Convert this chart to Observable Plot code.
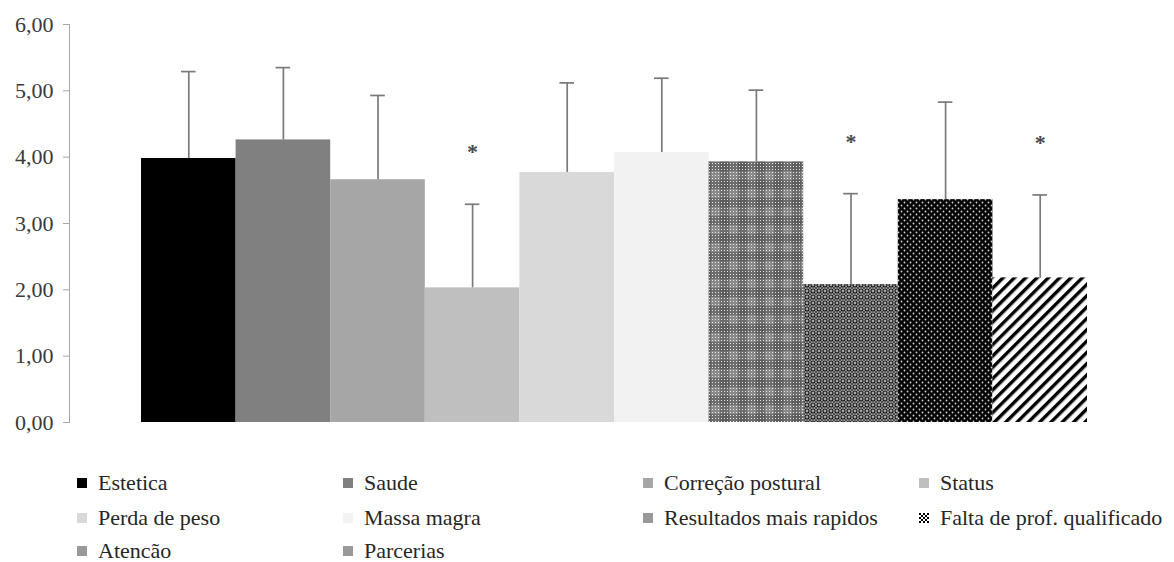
<!DOCTYPE html>
<html>
<head>
<meta charset="utf-8">
<script src="https://cdn.jsdelivr.net/npm/d3@7"></script>
<script src="https://cdn.jsdelivr.net/npm/@observablehq/plot@0.6"></script>
<style>
  body { margin: 0; background: #fff; font-family: "Liberation Serif", "DejaVu Serif", "Times New Roman", Times, serif; }
  #chart { position: relative; width: 1174px; height: 562px; overflow: hidden; }
  #chart svg { display: block; }
  .item { position: absolute; height: 22px; line-height: 22px; display: flex; align-items: center;
          font-size: 22px; color: #262626; white-space: nowrap; }
  .sw { width: 10px; height: 10px; margin-right: 11px; flex: none; }
</style>
</head>
<body>
<div id="chart"></div>
<script>
// ---- data ----
const categories = ["Estetica", "Saude", "Correção postural", "Status", "Perda de peso",
  "Massa magra", "Resultados mais rapidos", "Falta de prof. qualificado", "Atencão", "Parcerias"];
const means = [3.98, 4.26, 3.66, 2.03, 3.77, 4.07, 3.93, 2.08, 3.36, 2.18];
const sds   = [1.31, 1.09, 1.27, 1.26, 1.35, 1.12, 1.08, 1.37, 1.47, 1.25];
const significant = [false, false, false, true, false, false, false, true, false, true];
const yTicks = [0, 1, 2, 3, 4, 5, 6];

// ---- styles ----
const barFills = ["#000000", "#808080", "#a6a6a6", "#bfbfbf", "#d9d9d9", "#f2f2f2",
  "url(#pat-plaid)", "url(#pat-lattice)", "url(#pat-dots)", "url(#pat-stripes)"];
const legendFills = ["#000000", "#808080", "#a6a6a6", "#bfbfbf", "#d9d9d9", "#f2f2f2",
  "#999999", "url(#pat-check)", "#999999", "#999999"];
const serif = "'Liberation Serif', 'DejaVu Serif', 'Times New Roman', Times, serif";

const data = categories.map((c, i) => ({
  cat: c, mean: means[i], top: means[i] + sds[i], sig: significant[i], fill: barFills[i]
}));

const plot = Plot.plot({
  width: 1174, height: 445,
  marginLeft: 69, marginRight: 87, marginTop: 24, marginBottom: 23,
  x: { domain: categories, padding: 0, insetLeft: 72, round: false, axis: null },
  y: { domain: [0, 6] },
  color: { type: "identity" },
  style: { fontFamily: serif, fontSize: "22px", background: "white" },
  marks: [
    Plot.barY(data, { x: "cat", y: "mean", fill: "fill" }),
    Plot.ruleX(data, { x: "cat", y1: "mean", y2: "top", stroke: "#7a7a7a", strokeWidth: 1.7 }),
    Plot.tickY(data, { x: "cat", y: "top", stroke: "#7a7a7a", strokeWidth: 1.7, insetLeft: 40, insetRight: 40 }),
    Plot.text(data.filter(d => d.sig), { x: "cat", y: "top", text: () => "*", dy: -52,
      fill: "#4a4a4a", fontSize: 22, fontWeight: "bold" }),
    Plot.axisY({ ticks: yTicks, tickFormat: d => d.toFixed(2).replace(".", ","),
      tickSize: 6, tickPadding: 10, stroke: "#a6a6a6", fill: "#3a3a3a" }),
    Plot.frame({ anchor: "left", stroke: "#a6a6a6" })
  ]
});

// pattern definitions
const svg = d3.select(plot);
const defs = svg.insert("defs", ":first-child");
{
  const p = defs.append("pattern").attr("id", "pat-plaid").attr("patternUnits", "userSpaceOnUse")
    .attr("width", 18).attr("height", 18);
  p.append("rect").attr("width", 18).attr("height", 18).attr("fill", "#8a8a8a");
  p.append("rect").attr("width", 9).attr("height", 18).attr("fill", "#4a4a4a").attr("opacity", 0.45);
  p.append("rect").attr("width", 18).attr("height", 9).attr("fill", "#4a4a4a").attr("opacity", 0.45);
  for (let i = 0; i < 6; i++) for (let j = 0; j < 6; j++)
    p.append("rect").attr("x", i * 3 + 1).attr("y", j * 3 + 1).attr("width", 1).attr("height", 1).attr("fill", "#e6e6e6");
}
{
  const p = defs.append("pattern").attr("id", "pat-lattice").attr("patternUnits", "userSpaceOnUse")
    .attr("width", 6).attr("height", 6);
  p.append("rect").attr("width", 6).attr("height", 6).attr("fill", "#a8a8a8");
  p.append("circle").attr("cx", 3).attr("cy", 3).attr("r", 2).attr("fill", "none").attr("stroke", "#111").attr("stroke-width", 1.1);
  [[0,0],[6,0],[0,6],[6,6]].forEach(([x,y]) => p.append("circle").attr("cx", x).attr("cy", y).attr("r", 0.9).attr("fill", "#222"));
}
{
  const p = defs.append("pattern").attr("id", "pat-dots").attr("patternUnits", "userSpaceOnUse")
    .attr("width", 6).attr("height", 6);
  p.append("rect").attr("width", 6).attr("height", 6).attr("fill", "#050505");
  p.append("circle").attr("cx", 1.5).attr("cy", 1.5).attr("r", 0.9).attr("fill", "#d0d0d0");
  p.append("circle").attr("cx", 4.5).attr("cy", 4.5).attr("r", 0.9).attr("fill", "#d0d0d0");
}
{
  const p = defs.append("pattern").attr("id", "pat-stripes").attr("patternUnits", "userSpaceOnUse")
    .attr("width", 8).attr("height", 8).attr("patternTransform", "rotate(45)");
  p.append("rect").attr("width", 8).attr("height", 8).attr("fill", "#ffffff");
  p.append("rect").attr("width", 3.4).attr("height", 8).attr("fill", "#000000");
}
{
  const p = defs.append("pattern").attr("id", "pat-check").attr("patternUnits", "userSpaceOnUse")
    .attr("width", 4).attr("height", 4);
  p.append("rect").attr("width", 4).attr("height", 4).attr("fill", "#ffffff");
  p.append("rect").attr("width", 2).attr("height", 2).attr("fill", "#000");
  p.append("rect").attr("x", 2).attr("y", 2).attr("width", 2).attr("height", 2).attr("fill", "#000");
}

const chart = document.getElementById("chart");
chart.appendChild(plot);

// legend (HTML, below the SVG)
const colX = [77, 343, 643, 919];
const rowY = [483, 518, 551];
categories.forEach((c, i) => {
  const item = document.createElement("div");
  item.className = "item";
  item.style.left = colX[i % 4] + "px";
  item.style.top = (rowY[Math.floor(i / 4)] - 11) + "px";
  const sw = document.createElementNS("http://www.w3.org/2000/svg", "svg");
  sw.setAttribute("class", "sw");
  sw.setAttribute("width", 10); sw.setAttribute("height", 10);
  const r = document.createElementNS("http://www.w3.org/2000/svg", "rect");
  r.setAttribute("width", 10); r.setAttribute("height", 10);
  r.setAttribute("fill", legendFills[i]);
  sw.appendChild(r);
  item.appendChild(sw);
  const t = document.createElement("span");
  t.textContent = c;
  item.appendChild(t);
  chart.appendChild(item);
});
</script>
</body>
</html>
